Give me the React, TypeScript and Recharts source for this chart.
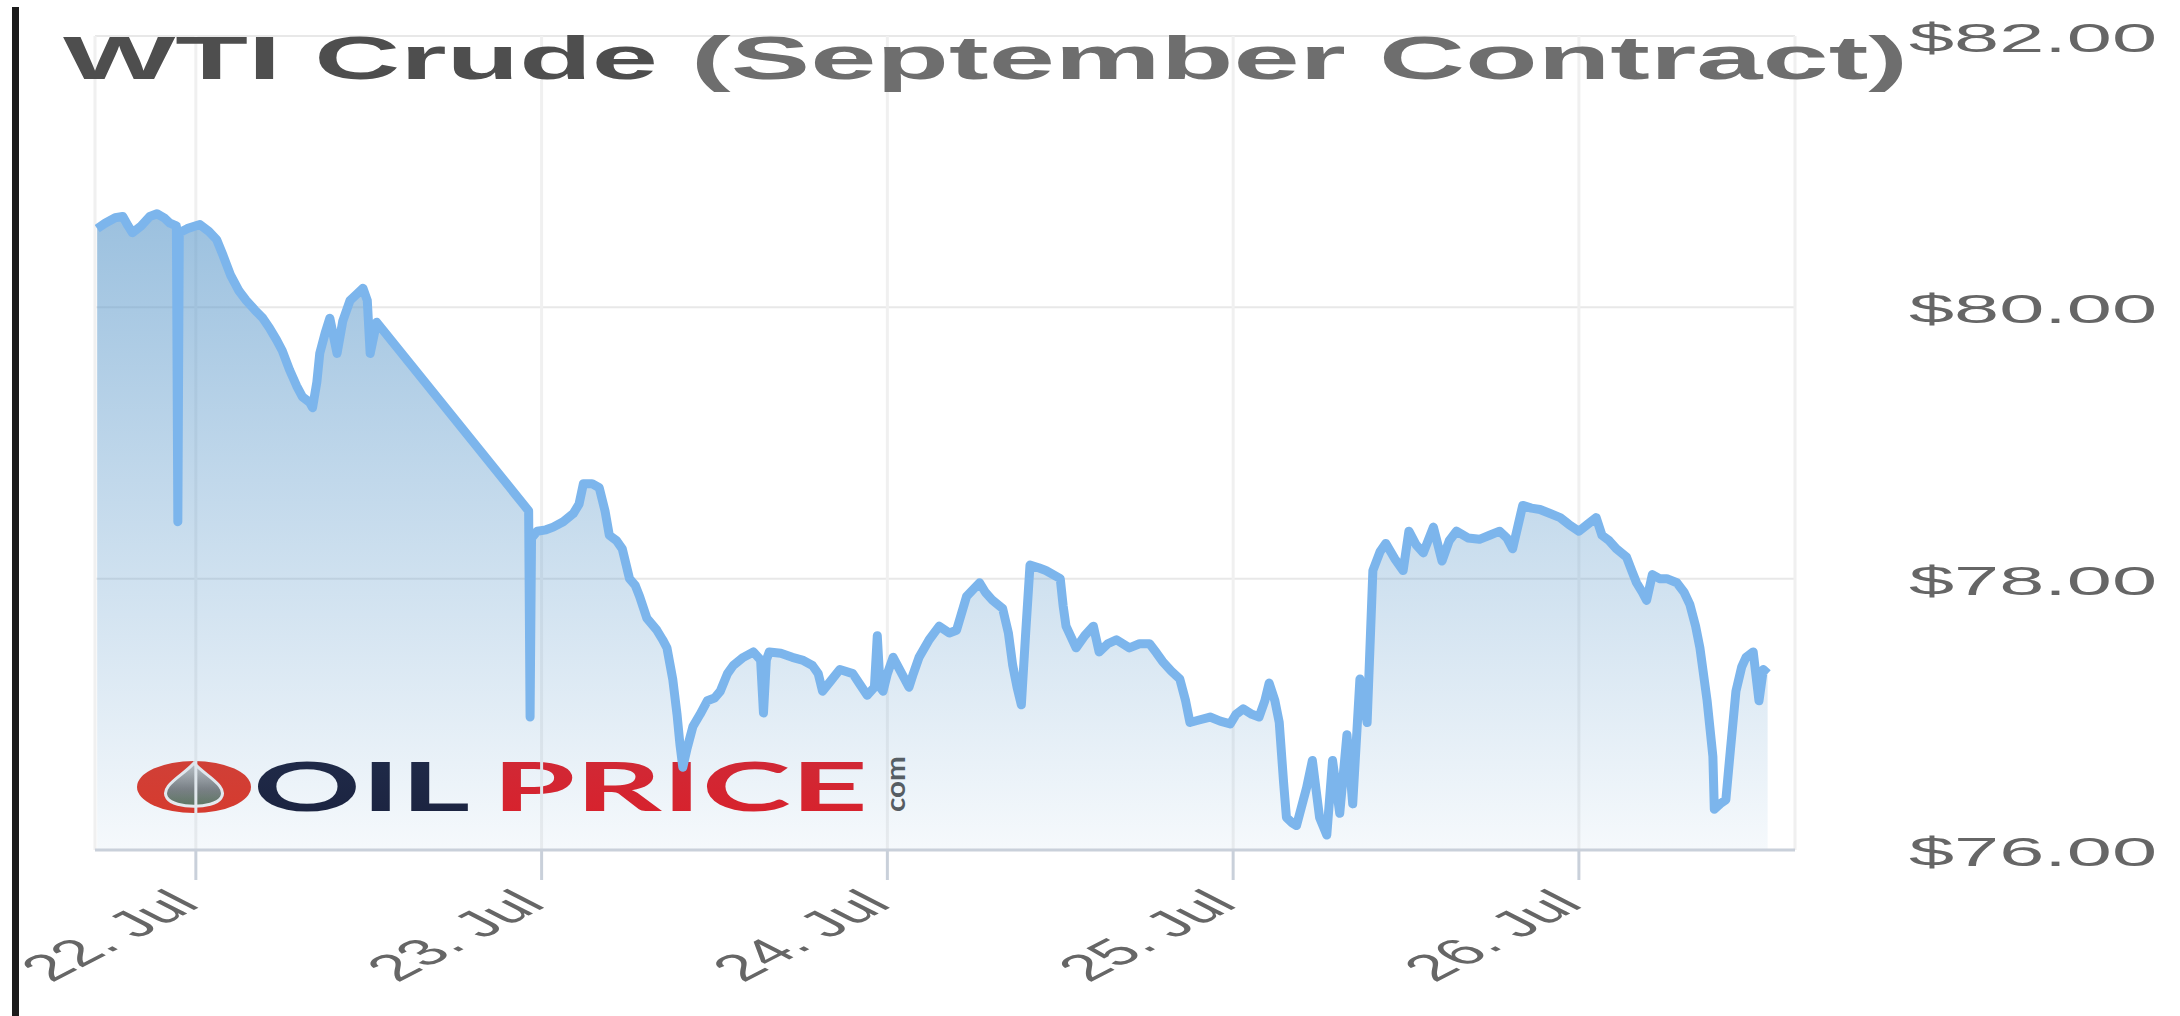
import React from 'react';
import { AreaChart, Area, XAxis, YAxis, CartesianGrid } from 'recharts';

const HOURS = [
  -6.85, -6.3, -5.6, -5.07, -4.7, -4.4, -3.8, -3.2, -2.7, -2.2, -1.8, -1.35, -1.25, -1.15, -0.6, 0.28, 0.9, 1.44, 1.9, 2.4,
  3.0, 3.5, 4.1, 4.65, 5.1, 5.6, 6.0, 6.5, 7.0, 7.4, 7.9, 8.1, 8.4, 8.6, 9.0, 9.3, 9.8, 10.2, 10.7, 11.2,
  11.6, 11.9, 12.1, 12.55, 23.1, 23.2, 23.3, 23.7, 24.3, 24.8, 25.5, 26.2, 26.6, 26.9, 27.5, 28.0, 28.4, 28.7, 29.2, 29.6,
  30.1, 30.5, 30.8, 31.3, 32.0, 32.4, 32.7, 33.1, 33.4, 33.6, 33.8, 34.1, 34.5, 35.0, 35.5, 36.0, 36.4, 36.9, 37.3, 38.0,
  38.7, 39.2, 39.4, 39.6, 39.8, 40.6, 41.4, 42.1, 42.8, 43.2, 43.5, 44.1, 44.7, 45.6, 46.1, 46.6, 47.1, 47.3, 47.5, 47.7,
  48.0, 48.4, 49.0, 49.5, 49.8, 50.2, 50.9, 51.6, 52.3, 52.8, 53.5, 54.4, 54.8, 55.3, 56.0, 56.4, 56.7, 57.0, 57.3, 57.6,
  57.9, 58.5, 59.0, 60.0, 60.2, 60.4, 61.1, 61.7, 62.3, 62.7, 63.3, 63.9, 64.8, 65.5, 66.2, 66.7, 67.1, 67.7, 68.3, 68.7,
  69.0, 69.7, 70.4, 71.1, 71.8, 72.2, 72.7, 73.3, 73.8, 74.2, 74.5, 74.9, 75.2, 75.5, 75.7, 76.1, 76.4, 77.1, 77.5, 78.0,
  78.5, 78.9, 79.4, 79.9, 80.3, 80.8, 81.3, 81.7, 82.2, 82.6, 83.2, 83.8, 84.2, 84.7, 85.2, 85.9, 86.5, 87.0, 87.5, 88.3,
  89.1, 89.8, 90.5, 91.0, 91.4, 92.1, 92.7, 93.3, 94.0, 94.7, 95.3, 96.0, 96.6, 97.2, 97.6, 98.1, 98.6, 99.3, 99.7, 100.0,
  100.4, 100.7, 101.1, 101.6, 102.1, 102.8, 103.3, 103.7, 104.1, 104.4, 104.9, 105.3, 105.4, 105.8, 106.2, 106.5, 106.9, 107.3, 107.6, 108.1,
  108.5, 108.8, 109.1,
];

const PRICES = [
  80.58, 80.62, 80.66, 80.67, 80.6, 80.55, 80.6, 80.67, 80.69, 80.66, 80.62, 80.6, 78.42, 80.55, 80.58, 80.61, 80.56, 80.5, 80.38, 80.24,
  80.12, 80.05, 79.98, 79.92, 79.85, 79.76, 79.68, 79.54, 79.42, 79.34, 79.3, 79.26, 79.45, 79.66, 79.82, 79.92, 79.66, 79.9, 80.05, 80.1,
  80.14, 80.05, 79.66, 79.89, 78.5, 76.98, 78.3, 78.35, 78.36, 78.38, 78.42, 78.48, 78.55, 78.7, 78.7, 78.67, 78.5, 78.32, 78.28, 78.22,
  78.0, 77.95, 77.87, 77.71, 77.62, 77.55, 77.49, 77.26, 77.0, 76.78, 76.61, 76.75, 76.91, 77.0, 77.1, 77.12, 77.17, 77.3, 77.36, 77.42,
  77.46, 77.4, 77.01, 77.4, 77.46, 77.45, 77.42, 77.4, 77.36, 77.3, 77.17, 77.25, 77.33, 77.3, 77.22, 77.14, 77.2, 77.58, 77.2, 77.17,
  77.3, 77.42, 77.3, 77.2, 77.3, 77.42, 77.55, 77.65, 77.6, 77.62, 77.87, 77.97, 77.9, 77.84, 77.78, 77.6, 77.36, 77.2, 77.07, 77.6,
  78.1, 78.08, 78.06, 78.0, 77.8, 77.65, 77.49, 77.58, 77.65, 77.46, 77.52, 77.55, 77.49, 77.52, 77.52, 77.45, 77.39, 77.32, 77.26, 77.1,
  76.94, 76.96, 76.98, 76.95, 76.93, 77.0, 77.04, 77.0, 76.98, 77.1, 77.23, 77.1, 76.94, 76.5, 76.24, 76.2, 76.18, 76.46, 76.66, 76.24,
  76.11, 76.66, 76.27, 76.85, 76.34, 77.26, 76.94, 78.06, 78.2, 78.26, 78.15, 78.06, 78.35, 78.25, 78.19, 78.38, 78.13, 78.28, 78.35, 78.3,
  78.29, 78.32, 78.35, 78.3, 78.22, 78.54, 78.52, 78.51, 78.48, 78.45, 78.4, 78.35, 78.4, 78.45, 78.32, 78.28, 78.22, 78.16, 78.05, 77.97,
  77.9, 77.84, 78.03, 78.0, 78.0, 77.97, 77.9, 77.81, 77.65, 77.49, 77.1, 76.69, 76.3, 76.34, 76.37, 76.72, 77.17, 77.35, 77.42, 77.46,
  77.1, 77.33, 77.3,
];

const TICK_HOURS = [0, 24, 48, 72, 96];
const TICK_LABELS = ['22. Jul', '23. Jul', '24. Jul', '25. Jul', '26. Jul'];
const Y_TICKS = [76, 78, 80, 82];
const TITLE_MAIN = 'WTI Crude ';
const TITLE_SUB = '(September Contract)';

const W = 2180;
const H = 1016;
const PLOT = { left: 95, top: 36, right: 1795, bottom: 850 };
const Y_AXIS_W = 300;
const X_AXIS_H = 140;
const FONT = '"Liberation Sans", Arial, Helvetica, sans-serif';

const data = HOURS.map((t, i) => ({ t, price: PRICES[i] }));

const XTick = (props: any) => {
  const { x, payload } = props;
  const idx = TICK_HOURS.indexOf(payload.value);
  return (
    <g transform={`translate(${x + 6},${PLOT.bottom + 56})`}>
      <text transform="scale(1.95,1) rotate(-45)" textAnchor="end" fontSize={37} fill="#666666" fontFamily={FONT}>
        {TICK_LABELS[idx]}
      </text>
    </g>
  );
};

const YTick = (props: any) => {
  const { y, payload } = props;
  return (
    <text
      x={PLOT.right + 362}
      y={y + 16}
      textAnchor="end"
      fontSize={41}
      fill="#666666"
      fontFamily={FONT}
      textLength={248}
      lengthAdjust="spacingAndGlyphs"
    >
      {`$${Number(payload.value).toFixed(2)}`}
    </text>
  );
};

export default function App() {
  return (
    <div style={{ position: 'absolute', left: 0, top: 0, width: W, height: H, overflow: 'hidden', background: '#ffffff' }}>
      {/* watermark logo behind the series */}
      <svg width={W} height={H} style={{ position: 'absolute', left: 0, top: 0, zIndex: 0 }}>
        <defs>
          <linearGradient id="dropGrad" x1="0" y1="0" x2="0" y2="1">
            <stop offset="0%" stopColor="#c9c9c9" />
            <stop offset="60%" stopColor="#7d7d7d" />
            <stop offset="100%" stopColor="#5d7256" />
          </linearGradient>
        </defs>
        <ellipse cx={194} cy={787} rx={57} ry={26} fill="#e2311f" />
        <path
          d="M194 763 C 204 775, 229 786, 221 798 C 213 809, 175 809, 167 798 C 159 786, 184 775, 194 763 Z"
          fill="url(#dropGrad)"
          stroke="#f2f2f2"
          strokeWidth={3}
        />
        <text x={253} y={811} fontSize={66} fontFamily="Lato, 'Open Sans', sans-serif" fontWeight={700} fill="#151833" textLength={217} lengthAdjust="spacingAndGlyphs">
          OIL
        </text>
        <text x={492} y={811} fontSize={66} fontFamily="Lato, 'Open Sans', sans-serif" fontWeight={700} fill="#e3161d" textLength={376} lengthAdjust="spacingAndGlyphs">
          PRICE
        </text>
        <text transform="translate(905,812) rotate(-90)" fontSize={26} fontFamily="Lato, sans-serif" fontWeight={700} fill="#555555" textLength={56} lengthAdjust="spacingAndGlyphs">
          com
        </text>
      </svg>

      <div style={{ position: 'absolute', left: 0, top: 0, zIndex: 1 }}>
        <AreaChart
          width={W}
          height={H}
          data={data}
          margin={{ top: PLOT.top, left: PLOT.left, right: W - PLOT.right - Y_AXIS_W, bottom: H - PLOT.bottom - X_AXIS_H }}
        >
          <defs>
            <linearGradient id="areaFill" x1="0" y1="0" x2="0" y2="1">
              <stop offset="0%" stopColor="#5e9acb" stopOpacity={0.62} />
              <stop offset="100%" stopColor="#5e9acb" stopOpacity={0.06} />
            </linearGradient>
          </defs>
          <CartesianGrid horizontal={true} vertical={false} stroke="#e8e8e8" strokeWidth={2} />
          <CartesianGrid horizontal={false} vertical={true} stroke="#f0f0f0" strokeWidth={3} />
          <XAxis
            dataKey="t"
            type="number"
            domain={[-7, 111]}
            ticks={TICK_HOURS}
            interval={0}
            height={X_AXIS_H}
            axisLine={{ stroke: '#c9d0da', strokeWidth: 3 }}
            tickLine={{ stroke: '#c9d0da', strokeWidth: 3 }}
            tickSize={30}
            tick={<XTick />}
            allowDataOverflow
          />
          <YAxis
            orientation="right"
            type="number"
            domain={[76, 82]}
            ticks={Y_TICKS}
            interval={0}
            width={Y_AXIS_W}
            axisLine={false}
            tickLine={false}
            tick={<YTick />}
            allowDataOverflow
          />
          <Area
            type="linear"
            dataKey="price"
            stroke="#7cb5ec"
            strokeWidth={9}
            strokeLinejoin="round"
            fill="url(#areaFill)"
            fillOpacity={1}
            dot={false}
            activeDot={false}
            isAnimationActive={false}
          />
        </AreaChart>
      </div>

      {/* title */}
      <svg width={W} height={H} style={{ position: 'absolute', left: 0, top: 0, zIndex: 2, pointerEvents: 'none' }}>
        <text x={63} y={79} fontSize={62} fontWeight={700} fontFamily={FONT} textLength={1845} lengthAdjust="spacingAndGlyphs">
          <tspan fill="#4e4e4e">{TITLE_MAIN}</tspan>
          <tspan fill="#6e6e6e">{TITLE_SUB}</tspan>
        </text>
      </svg>

      {/* left black border */}
      <div style={{ position: 'absolute', left: 12, top: 7, width: 7, height: H - 7, background: '#1b1b1b', zIndex: 3 }} />
    </div>
  );
}
